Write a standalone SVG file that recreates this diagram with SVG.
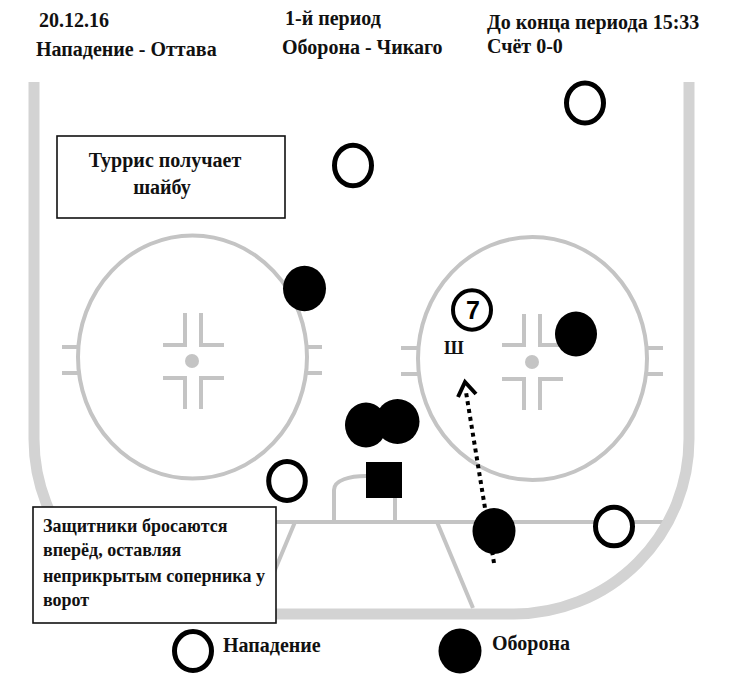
<svg xmlns="http://www.w3.org/2000/svg" width="730" height="686" viewBox="0 0 730 686">
<style>
.t{font-family:"Liberation Serif","Times New Roman",serif;font-weight:bold;fill:#111}
.h{font-size:20px}
.b{font-size:18px}
.wall{fill:none;stroke:#d3d3d3;stroke-width:11}
.ln{fill:none;stroke:#c4c4c4;stroke-width:4}
.off{fill:#fff;stroke:#000;stroke-width:5}
.def{fill:#000}
.box{fill:#fff;stroke:#111;stroke-width:1.6}
</style>
<rect width="730" height="686" fill="#fff"/>
<g id="header">
<text class="t h" x="39" y="27">20.12.16</text>
<text class="t h" x="285" y="25">1-й период</text>
<text class="t h" x="487" y="29">До конца периода 15:33</text>
<text class="t h" x="36" y="56">Нападение - Оттава</text>
<text class="t h" x="282" y="53.5">Оборона - Чикаго</text>
<text class="t h" x="487" y="53">Счёт 0-0</text>
</g>
<g id="rink">
<line class="ln" x1="50" y1="522" x2="672" y2="522"/>
<path class="ln" d="M295,522 L259,608 M437,522 L473,608"/>
<path class="ln" d="M334,522 V490 C334,480 350,476 366,476 C382,476 395,480 395,490 V522"/>
<ellipse class="ln" cx="192.5" cy="357" rx="114.5" ry="121.5"/>
<ellipse class="ln" cx="532.5" cy="358.5" rx="114.5" ry="121.5"/>
<path class="ln" d="M62,347 H79 M62,373 H79 M306,347 H322 M306,373 H322"/>
<path class="ln" d="M401,348 H419 M401,374 H419 M646,348 H663 M646,374 H663"/>
<path class="ln" d="M185,313 V345 H163 M201,313 V345 H224 M185,409 V378 H163 M201,409 V378 H224"/>
<path class="ln" d="M524,314 V345 H502 M540,314 V345 H563 M524,410 V379 H502 M540,410 V379 H563"/>
<circle cx="192" cy="361" r="7" fill="#c4c4c4"/>
<circle cx="532" cy="362" r="7" fill="#c4c4c4"/>
<path class="wall" d="M34,82 V439 A175,175 0 0 0 209,614 H514 A175,175 0 0 0 689,439 V82"/>
</g>
<g id="connectors">
<line x1="494" y1="563" x2="466" y2="392" stroke="#000" stroke-width="4" stroke-dasharray="4 4"/>
<polyline points="458,397 465,382 476,394" fill="none" stroke="#000" stroke-width="4"/>
</g>
<g id="players">
<ellipse id="off1" class="off" cx="585" cy="103" rx="18.5" ry="20"/>
<ellipse id="off2" class="off" cx="353" cy="165.5" rx="18.5" ry="20.3"/>
<ellipse id="off3" class="off" cx="287" cy="481" rx="18.3" ry="19.5"/>
<ellipse id="off4" class="off" cx="614" cy="526.5" rx="18.5" ry="19.3"/>
<g id="off7">
<ellipse cx="472" cy="310" rx="19" ry="19.7" fill="#fff" stroke="#000" stroke-width="4"/>
<text x="473" y="319" text-anchor="middle" font-family="Liberation Sans, Arial, sans-serif" font-weight="bold" font-size="25">7</text>
</g>
<text id="puck" class="t" x="444" y="354" font-size="18">Ш</text>
<ellipse id="def1" class="def" cx="304.5" cy="288.5" rx="21.5" ry="22.7"/>
<ellipse id="def2" class="def" cx="366" cy="425" rx="21" ry="22.5"/>
<ellipse id="def3" class="def" cx="397.5" cy="421.5" rx="22" ry="22.5"/>
<ellipse id="def4" class="def" cx="576" cy="334" rx="21" ry="22.5"/>
<ellipse id="def5" class="def" cx="494" cy="531" rx="21.5" ry="23"/>
<rect id="goalie" x="366" y="462" width="36" height="36" fill="#000"/>
</g>
<g id="note1">
<rect class="box" x="57" y="136" width="228" height="82"/>
<text class="t h" x="165" y="167" text-anchor="middle">Туррис получает</text>
<text class="t h" x="162" y="194" text-anchor="middle">шайбу</text>
</g>
<g id="note2">
<rect class="box" x="33" y="507" width="243" height="116"/>
<text class="t b" x="43" y="532">Защитники бросаются</text>
<text class="t b" x="43" y="556">вперёд, оставляя</text>
<text class="t b" x="43" y="582">неприкрытым соперника у</text>
<text class="t b" x="43" y="606">ворот</text>
</g>
<g id="legend">
<ellipse class="off" cx="193" cy="651" rx="18.5" ry="19.5"/>
<text class="t h" x="223" y="652">Нападение</text>
<ellipse class="def" cx="460" cy="651" rx="21.5" ry="22.5"/>
<text class="t h" x="492" y="650">Оборона</text>
</g>
</svg>
